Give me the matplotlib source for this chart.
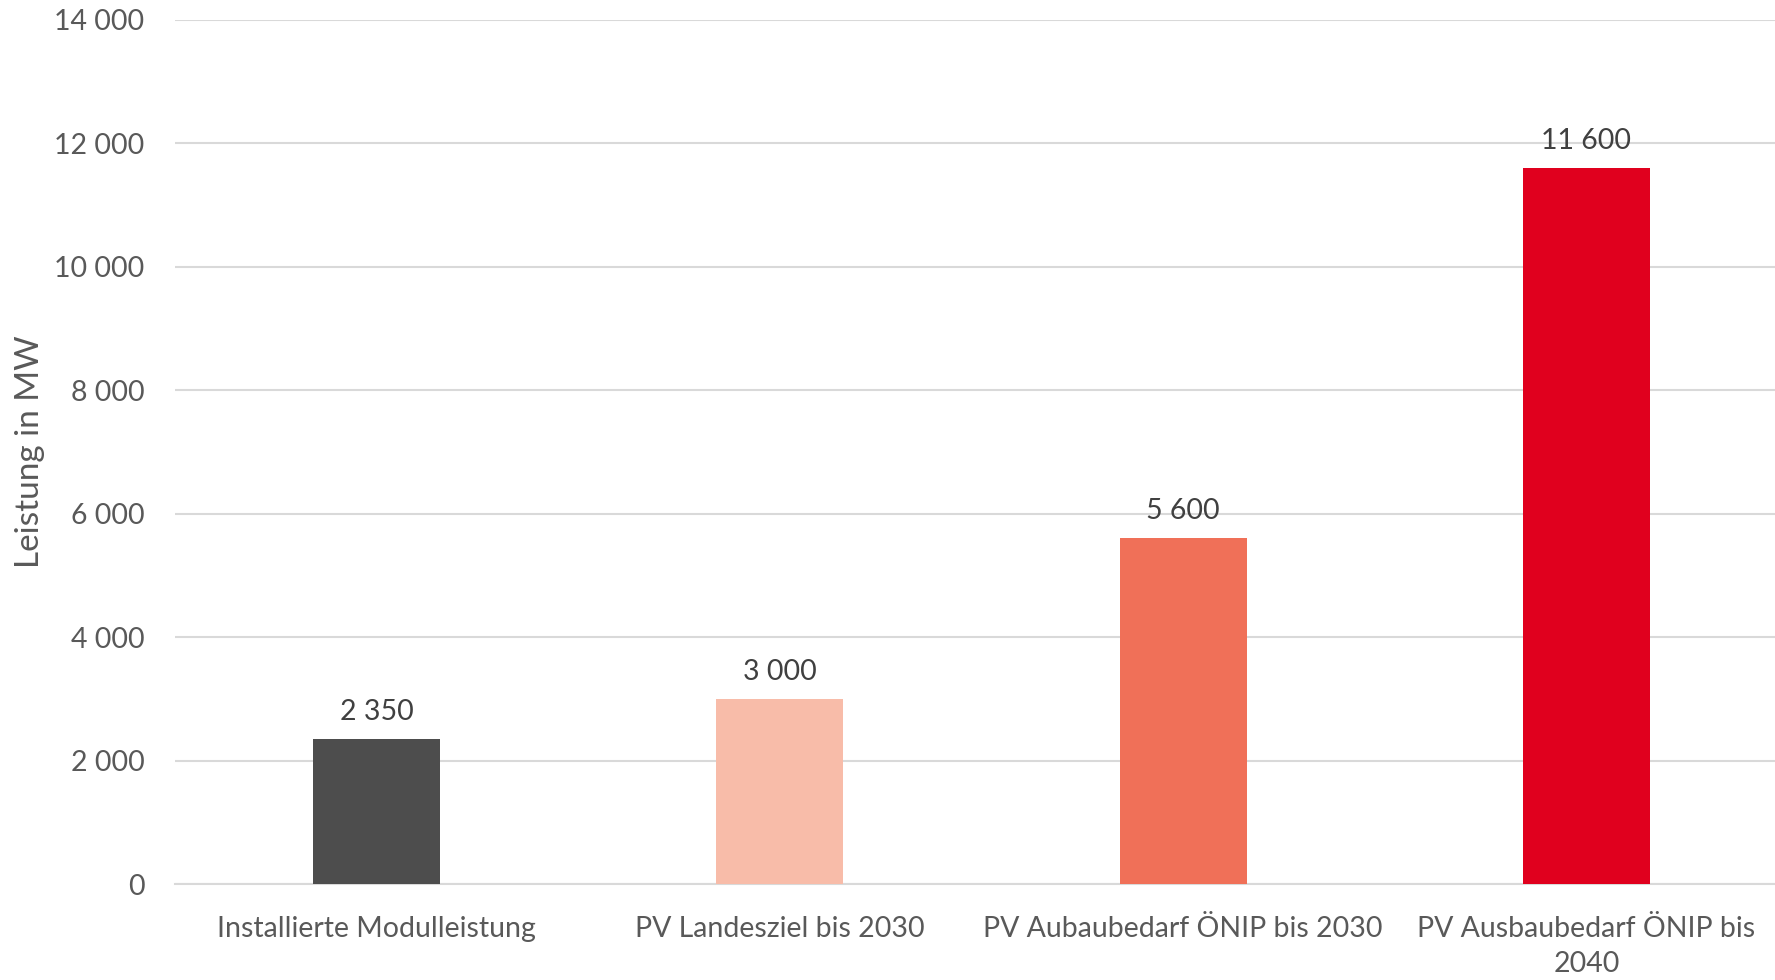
import matplotlib.pyplot as plt
from matplotlib.ticker import FuncFormatter

categories = ["Installierte Modulleistung", "PV Landesziel bis 2030",
              "PV Aubaubedarf ÖNIP bis 2030", "PV Ausbaubedarf ÖNIP bis\n2040"]
values = [2350, 3000, 5600, 11600]
colors = ["#4d4d4d", "#f8bca9", "#f07058", "#e0001e"]

plt.rcParams['font.family'] = ['Lato', 'DejaVu Sans']

fig = plt.figure(figsize=(17.75, 9.8), dpi=100)
ax = fig.add_axes([175/1775, 1-884/980, (1788-175)/1775, (884-20)/980])

x = range(len(values))
bars = ax.bar(x, values, width=0.315, color=colors, zorder=3)

def fmt(v, pos=None):
    return f"{int(v):,}".replace(",", " ")

for b, v in zip(bars, values):
    ax.text(b.get_x() + b.get_width()/2, v + 230, fmt(v), ha='center', va='bottom',
            fontsize=20.5, color='#404040', zorder=4)

ax.set_ylim(0, 14000)
ax.set_xlim(-0.5, 3.5)
ax.set_yticks(range(0, 14001, 2000))
ax.yaxis.set_major_formatter(FuncFormatter(fmt))
ax.set_xticks(list(x))
ax.set_xticklabels(categories, linespacing=1.45)
ax.tick_params(axis='y', length=0, pad=22, labelsize=20.5, labelcolor='#595959')
ax.tick_params(axis='x', length=0, pad=23, labelsize=20.5, labelcolor='#595959')
ax.grid(axis='y', color='#d9d9d9', linewidth=1.5, zorder=0)
for s in ['top', 'right', 'left']:
    ax.spines[s].set_visible(False)
ax.spines['bottom'].set_color('#d9d9d9')
ax.spines['bottom'].set_linewidth(1.5)

ax.set_ylabel("Leistung in MW", fontsize=24, color='#595959')
ax.yaxis.set_label_coords(-130/1613, 0.5)

fig.savefig("out.png", dpi=100)
